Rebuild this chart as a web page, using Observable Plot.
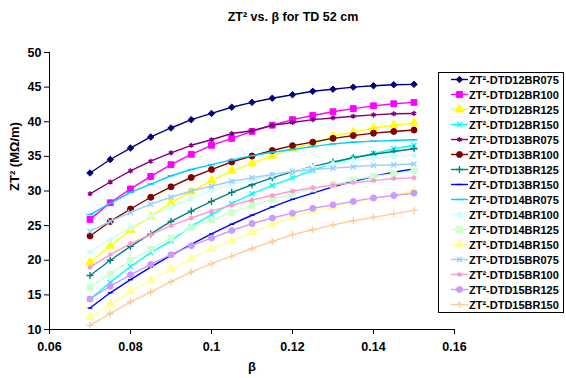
<!DOCTYPE html>
<html><head><meta charset="utf-8">
<script src="https://cdn.jsdelivr.net/npm/d3@7"></script>
<script src="https://cdn.jsdelivr.net/npm/@observablehq/plot@0.6"></script>
<style>
html,body{margin:0;padding:0;background:#fff;}
svg{display:block;}
</style></head><body><div id="chart"></div>
<script>
// ---- data ----
const beta = [0.07,0.075,0.08,0.085,0.09,0.095,0.1,0.105,0.11,0.115,0.12,0.125,0.13,0.135,0.14,0.145,0.15];
const seriesNames = ["ZT²-DTD12BR075","ZT²-DTD12BR100","ZT²-DTD12BR125","ZT²-DTD12BR150",
  "ZT²-DTD13BR075","ZT²-DTD13BR100","ZT²-DTD13BR125","ZT²-DTD13BR150",
  "ZT²-DTD14BR075","ZT²-DTD14BR100","ZT²-DTD14BR125","ZT²-DTD14BR150",
  "ZT²-DTD15BR075","ZT²-DTD15BR100","ZT²-DTD15BR125","ZT²-DTD15BR150"];
const dtd12br075 = [32.6,34.55,36.2,37.8,39.1,40.3,41.2,42.1,42.8,43.4,43.9,44.4,44.7,45.0,45.2,45.35,45.4];
const dtd12br100 = [25.9,28.3,30.3,32.1,33.8,35.3,36.6,37.6,38.6,39.5,40.3,40.9,41.45,41.9,42.3,42.6,42.8];
const dtd12br125 = [19.7,22.1,24.4,26.3,28.3,29.9,31.5,32.9,34.0,35.1,36.2,36.8,37.9,38.5,39.1,39.5,39.8];
const dtd12br150 = [14.4,16.8,19.1,21.1,22.8,24.9,26.6,28.2,29.6,30.8,31.9,33.0,34.0,34.8,35.4,36.1,36.6];
const dtd13br075 = [29.6,31.3,32.9,34.3,35.5,36.6,37.4,38.3,38.7,39.5,39.9,40.3,40.55,40.8,41.0,41.15,41.2];
const dtd13br100 = [23.5,25.6,27.4,29.1,30.6,31.95,33.1,34.2,35.05,35.85,36.55,37.05,37.6,38.0,38.35,38.6,38.8];
const dtd13br125 = [17.8,20.0,22.0,23.8,25.6,27.1,28.5,29.8,30.9,31.9,32.8,33.5,34.2,34.8,35.3,35.7,36.1];
const dtd13br150 = [13.1,15.3,17.2,19.0,20.7,22.3,23.8,25.2,26.5,27.7,28.8,29.7,30.6,31.4,32.1,32.7,33.2];
const dtd14br075 = [26.6,28.2,29.8,31.0,32.2,33.1,33.8,34.5,35.1,35.6,36.0,36.4,36.8,37.05,37.2,37.3,37.4];
const dtd14br100 = [21.2,23.0,24.7,26.3,27.7,28.9,30.1,30.9,31.6,32.3,32.9,33.4,33.9,34.4,34.7,35.0,35.2];
const dtd14br125 = [16.1,18.0,20.0,21.6,23.2,24.7,25.8,26.9,27.9,28.8,29.6,30.3,30.95,31.6,32.1,32.5,32.9];
const dtd14br150 = [11.8,13.6,15.5,17.1,18.7,20.2,21.65,22.75,24.05,25.2,26.2,27.1,27.7,28.4,28.9,29.5,30.0];
const dtd15br075 = [24.2,25.6,26.9,28.1,29.1,30.0,30.7,31.4,31.9,32.4,32.8,33.1,33.3,33.5,33.7,33.8,33.9];
const dtd15br100 = [19.0,20.8,22.4,23.7,25.0,26.1,27.1,27.95,28.7,29.35,30.0,30.45,30.85,31.2,31.5,31.8,31.9];
const dtd15br125 = [14.4,16.25,17.9,19.4,20.8,22.1,23.2,24.3,25.3,26.1,26.8,27.5,28.0,28.5,29.0,29.35,29.7];
const dtd15br150 = [10.6,12.3,14.0,15.4,16.9,18.3,19.5,20.6,21.7,22.7,23.7,24.4,25.1,25.7,26.2,26.7,27.2];
const xTicks = [0.06,0.08,0.1,0.12,0.14,0.16];
const yTicks = [10,15,20,25,30,35,40,45,50];
const titleText = "ZT² vs. β for TD 52 cm";
const yLabelText = "ZT² (MΩ/m)";
const xLabelText = "β";

// ---- styles ----
const seriesValues = [dtd12br075,dtd12br100,dtd12br125,dtd12br150,dtd13br075,dtd13br100,dtd13br125,dtd13br150,
  dtd14br075,dtd14br100,dtd14br125,dtd14br150,dtd15br075,dtd15br100,dtd15br125,dtd15br150];
const colors = ["#000080","#FF00FF","#FFFF00","#00FFFF","#800080","#800000","#008080","#0000FF",
  "#00CCFF","#CCFFFF","#CCFFCC","#FFFF99","#99CCFF","#FF99CC","#CC99FF","#FFCC99"];
const dashShort = {draw(ctx, size){ const w = Math.sqrt(size)*0.45; ctx.moveTo(-w,0); ctx.lineTo(w,0); }};
const dashLong = {draw(ctx, size){ const w = Math.sqrt(size)*0.65; ctx.moveTo(-w,0); ctx.lineTo(w,0); }};
const symbols = [d3.symbolDiamond2,d3.symbolSquare,d3.symbolTriangle,d3.symbolTimes,d3.symbolAsterisk,d3.symbolCircle,d3.symbolPlus,dashShort,
  dashLong,d3.symbolDiamond2,d3.symbolSquare,d3.symbolTriangle,d3.symbolTimes,d3.symbolAsterisk,d3.symbolCircle,d3.symbolPlus];
const filledSym = [true,true,true,false,false,true,false,false,false,true,true,true,false,false,true,false];
const radii = [2.9,3.3,3.2,2.4,2.4,3,2.4,3,3,2.9,3.3,3.2,2.4,2.4,3,2.4];

const FONT = "'Liberation Sans', Arial, sans-serif";
const marks = [];
seriesValues.forEach((vals, i) => {
  const rows = beta.map((b, j) => ({beta: b, v: vals[j]}));
  marks.push(Plot.line(rows, {x: "beta", y: "v", stroke: colors[i], strokeWidth: 1.4}));
  marks.push(Plot.dot(rows, {x: "beta", y: "v", symbol: symbols[i], r: radii[i],
    fill: filledSym[i] ? colors[i] : "none", stroke: colors[i], strokeWidth: filledSym[i] ? 1 : 1.4}));
});
marks.push(Plot.text([yLabelText], {text: d => d, frameAnchor: "left", dx: -35, rotate: -90, fontSize: 13, fontWeight: "bold"}));
marks.push(Plot.text([xLabelText], {text: d => d, frameAnchor: "bottom", dy: 41, fontSize: 13, fontWeight: "bold"}));

const chart = Plot.plot({
  width: 566, height: 378,
  marginLeft: 49, marginRight: 112, marginTop: 52, marginBottom: 49,
  style: {fontFamily: FONT, fontSize: "12.5px", fontWeight: "bold", color: "black", background: "white", overflow: "visible"},
  x: {domain: [0.06, 0.16], ticks: xTicks, tickFormat: d => String(+d.toFixed(2)), tickSize: 5, tickPadding: 8, label: null, line: true},
  y: {domain: [10, 50], ticks: yTicks, tickSize: 5, tickPadding: 3, label: null, line: true},
  marks
});
document.getElementById("chart").appendChild(chart);

// ---- title and legend ----
const svg = d3.select(chart);
svg.append("text").attr("x", 293).attr("y", 21).attr("text-anchor", "middle")
  .style("font-family", FONT).style("font-size", "12.5px").style("font-weight", "bold").text(titleText);

const lg = svg.append("g");
lg.append("rect").attr("x", 438.5).attr("y", 72.5).attr("width", 125).attr("height", 240)
  .attr("fill", "white").attr("stroke", "black").attr("stroke-width", 1);
seriesNames.forEach((name, i) => {
  const cy = 79.5 + i * 15;
  lg.append("line").attr("x1", 451).attr("x2", 468).attr("y1", cy).attr("y2", cy)
    .attr("stroke", colors[i]).attr("stroke-width", 1.4);
  lg.append("path").attr("transform", `translate(459.5,${cy})`)
    .attr("d", d3.symbol(symbols[i], Math.PI * radii[i] * radii[i])())
    .attr("fill", filledSym[i] ? colors[i] : "none").attr("stroke", colors[i])
    .attr("stroke-width", filledSym[i] ? 1 : 1.4);
  lg.append("text").attr("x", 469).attr("y", cy + 4)
    .style("font-family", FONT).style("font-size", "11px").style("font-weight", "bold").style("text-anchor", "start")
    .text(name);
});
</script></body></html>
